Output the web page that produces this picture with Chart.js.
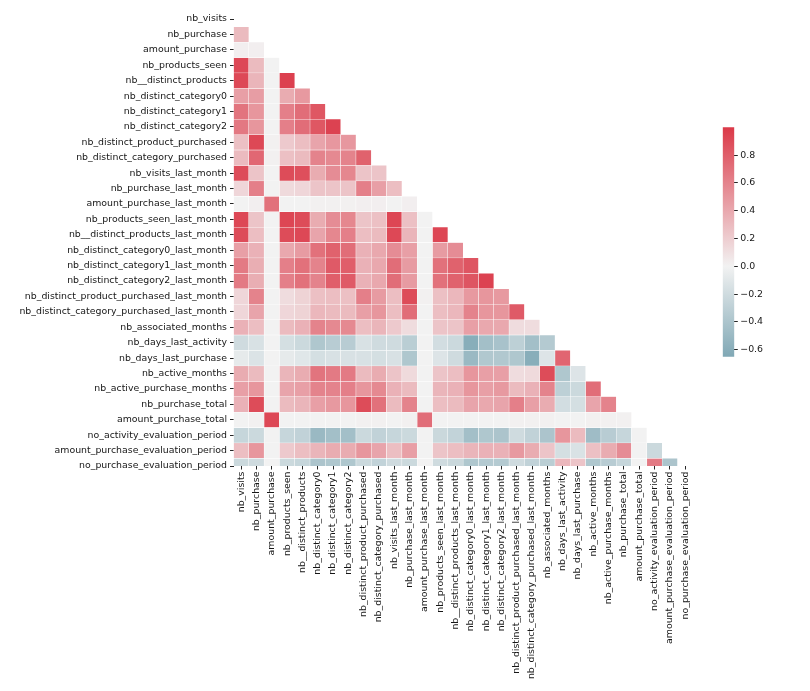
<!DOCTYPE html>
<html><head><meta charset="utf-8">
<script src="https://cdn.jsdelivr.net/npm/chart.js@4/dist/chart.umd.min.js"></script>
<style>html,body{margin:0;padding:0;background:#fff;}#wrap{position:relative;width:810px;height:691px;}canvas{position:absolute;left:0;top:0;}</style>
</head><body><div id="wrap"><canvas id="heat" width="810" height="691"></canvas><canvas id="cbar" width="810" height="691"></canvas></div>
<script>
// ---------- data ----------
const variables = [
  "nb_visits","nb_purchase","amount_purchase","nb_products_seen","nb__distinct_products",
  "nb_distinct_category0","nb_distinct_category1","nb_distinct_category2",
  "nb_distinct_product_purchased","nb_distinct_category_purchased",
  "nb_visits_last_month","nb_purchase_last_month","amount_purchase_last_month",
  "nb_products_seen_last_month","nb__distinct_products_last_month",
  "nb_distinct_category0_last_month","nb_distinct_category1_last_month","nb_distinct_category2_last_month",
  "nb_distinct_product_purchased_last_month","nb_distinct_category_purchased_last_month",
  "nb_associated_months","nb_days_last_activity","nb_days_last_purchase",
  "nb_active_months","nb_active_purchase_months","nb_purchase_total","amount_purchase_total",
  "no_activity_evaluation_period","amount_purchase_evaluation_period","no_purchase_evaluation_period"
];
// lower triangle of the correlation matrix (row i holds columns 0..i-1)
const corr = [
  [],
  [0.30],
  [0.02,0.02],
  [0.92,0.30,0.00],
  [0.92,0.33,0.00,0.96],
  [0.45,0.46,0.00,0.38,0.48],
  [0.68,0.50,0.00,0.62,0.72,0.84],
  [0.66,0.50,0.00,0.62,0.72,0.84,0.95],
  [0.27,0.92,0.01,0.22,0.28,0.42,0.49,0.49],
  [0.30,0.75,0.01,0.27,0.30,0.60,0.57,0.60,0.78],
  [0.90,0.25,0.00,0.90,0.88,0.38,0.55,0.58,0.25,0.25],
  [0.15,0.62,0.00,0.13,0.15,0.25,0.25,0.25,0.62,0.45,0.28],
  [0.00,0.02,0.70,0.00,0.00,0.01,0.01,0.01,0.02,0.02,0.00,0.02],
  [0.92,0.25,0.00,0.93,0.90,0.38,0.55,0.58,0.25,0.27,0.93,0.27,0.00],
  [0.90,0.28,0.00,0.90,0.92,0.42,0.58,0.62,0.28,0.30,0.92,0.33,0.00,0.93],
  [0.45,0.35,0.00,0.40,0.47,0.70,0.78,0.72,0.35,0.40,0.55,0.45,0.00,0.47,0.55],
  [0.65,0.37,0.00,0.62,0.70,0.60,0.82,0.80,0.35,0.40,0.72,0.47,0.00,0.70,0.78,0.85],
  [0.65,0.37,0.00,0.62,0.70,0.60,0.80,0.82,0.35,0.40,0.72,0.47,0.00,0.70,0.78,0.85,0.95],
  [0.15,0.60,0.00,0.12,0.17,0.27,0.28,0.27,0.62,0.47,0.28,0.90,0.01,0.27,0.32,0.48,0.50,0.48],
  [0.15,0.42,0.00,0.15,0.17,0.32,0.30,0.30,0.45,0.50,0.28,0.72,0.00,0.28,0.32,0.60,0.50,0.50,0.82],
  [0.35,0.28,0.00,0.30,0.35,0.60,0.57,0.57,0.28,0.33,0.22,0.12,0.00,0.25,0.25,0.45,0.40,0.40,0.12,0.12],
  [-0.20,-0.15,0.00,-0.17,-0.22,-0.38,-0.33,-0.33,-0.15,-0.20,-0.20,-0.32,0.00,-0.18,-0.22,-0.60,-0.45,-0.42,-0.30,-0.45,-0.35],
  [-0.07,-0.13,0.00,-0.07,-0.10,-0.17,-0.15,-0.15,-0.15,-0.17,-0.15,-0.38,0.00,-0.12,-0.20,-0.50,-0.37,-0.37,-0.38,-0.60,-0.12,0.76],
  [0.38,0.30,0.00,0.33,0.38,0.68,0.65,0.65,0.30,0.38,0.25,0.13,0.00,0.25,0.28,0.50,0.45,0.45,0.12,0.13,0.90,-0.38,-0.12],
  [0.45,0.50,0.00,0.42,0.45,0.60,0.60,0.62,0.50,0.57,0.35,0.30,0.00,0.33,0.35,0.50,0.45,0.48,0.30,0.35,0.60,-0.30,-0.22,0.72],
  [0.35,0.90,0.00,0.30,0.33,0.45,0.48,0.50,0.90,0.70,0.30,0.60,0.00,0.28,0.30,0.42,0.40,0.42,0.62,0.45,0.38,-0.18,-0.17,0.42,0.60],
  [0.00,0.01,0.92,0.00,0.00,0.00,0.00,0.00,0.01,0.01,0.00,0.01,0.72,0.00,0.00,0.00,0.00,0.00,0.01,0.01,0.01,0.00,0.00,0.01,0.01,0.01],
  [-0.25,-0.22,0.00,-0.25,-0.28,-0.50,-0.45,-0.45,-0.22,-0.28,-0.25,-0.22,0.00,-0.23,-0.27,-0.45,-0.38,-0.40,-0.20,-0.28,-0.40,0.50,0.30,-0.47,-0.33,-0.25,0.00],
  [0.28,0.50,0.00,0.22,0.28,0.33,0.38,0.38,0.50,0.42,0.28,0.45,0.00,0.25,0.28,0.33,0.35,0.35,0.48,0.38,0.25,-0.17,-0.14,0.27,0.38,0.55,0.00,-0.22],
  [-0.22,-0.20,0.00,-0.22,-0.25,-0.40,-0.38,-0.38,-0.22,-0.27,-0.20,-0.22,0.00,-0.20,-0.23,-0.38,-0.35,-0.35,-0.20,-0.28,-0.32,0.32,0.25,-0.38,-0.33,-0.25,0.00,0.65,-0.40]
];
const colorbarTicks = [-0.6,-0.4,-0.2,0.0,0.2,0.4,0.6,0.8];
const colorMin = -0.65, colorMax = 1.0;

// ---------- colours (diverging 220 -> 10) ----------
const MID = [242,242,242], POS = [219,57,72], NEG = [66,128,148];
function colorFor(v){
  const t = Math.min(1, Math.abs(v));
  const end = v >= 0 ? POS : NEG;
  const c = MID.map((m,k)=>Math.round(m + t*(end[k]-m)));
  return `rgb(${c[0]},${c[1]},${c[2]})`;
}

Chart.defaults.font.family = "'DejaVu Sans', sans-serif";
Chart.defaults.font.size = 9.4;
Chart.defaults.color = '#161616';

// ---------- heatmap ----------
const datasets = corr.map((row, i) => ({
  label: variables[i],
  data: variables.map((_, j) => j < i ? [i - 0.5, i + 0.5] : null),
  backgroundColor: (ctx) => colorFor(row[ctx.dataIndex] ?? 0),
  borderColor: '#ffffff',
  borderWidth: 0.5,
  borderSkipped: false,
  grouped: false,
  barPercentage: 1,
  categoryPercentage: 1,
  clip: 0
}));

new Chart(document.getElementById('heat'), {
  type: 'bar',
  data: { labels: variables, datasets },
  options: {
    responsive: false, animation: false, devicePixelRatio: 1,
    layout: { padding: { left: 0, top: 19, right: 117.2, bottom: 0 } },
    plugins: { legend: { display: false }, tooltip: { enabled: false } },
    scales: {
      x: {
        type: 'category',
        offset: true,
        grid: { display: true, drawOnChartArea: false, drawTicks: true, tickLength: 3.5, offset: false, color: '#262626', lineWidth: 1 },
        border: { display: false },
        ticks: { autoSkip: false, minRotation: 90, maxRotation: 90, padding: 2 },
        afterFit: (s) => { s.height = 225; }
      },
      y: {
        type: 'linear',
        reverse: true,
        min: 0, max: variables.length - 1,
        grid: { display: true, drawOnChartArea: false, drawTicks: true, tickLength: 3.5, color: '#262626', lineWidth: 1 },
        border: { display: false },
        ticks: { stepSize: 1, autoSkip: false, padding: 3, callback: (v) => variables[Math.round(v)] },
        afterFit: (s) => { s.width = 233.5; }
      }
    }
  }
});

// ---------- colour bar ----------
new Chart(document.getElementById('cbar'), {
  type: 'bar',
  data: { labels: [''], datasets: [{
    data: [[colorMin, colorMax]],
    barPercentage: 1, categoryPercentage: 1, borderWidth: 0,
    backgroundColor: (ctx) => {
      const chart = ctx.chart;
      if (!chart.chartArea) return colorFor(0);
      const ys = chart.scales.y;
      const top = ys.getPixelForValue(colorMax), bot = ys.getPixelForValue(colorMin), zero = ys.getPixelForValue(0);
      const g = chart.ctx.createLinearGradient(0, top, 0, bot);
      g.addColorStop(0, colorFor(colorMax));
      g.addColorStop((zero - top) / (bot - top), colorFor(0));
      g.addColorStop(1, colorFor(colorMin));
      return g;
    }
  }]},
  options: {
    responsive: false, animation: false, devicePixelRatio: 1,
    layout: { padding: { left: 722.7, top: 127.3, right: 35.7, bottom: 334.3 } },
    plugins: { legend: { display: false }, tooltip: { enabled: false } },
    scales: {
      x: { display: false },
      y: {
        type: 'linear', position: 'right', min: colorMin, max: colorMax,
        grid: { display: true, drawOnChartArea: false, drawTicks: true, tickLength: 3.5, color: '#262626', lineWidth: 1 },
        border: { display: false },
        afterBuildTicks: (s) => { s.ticks = colorbarTicks.map(v => ({ value: v })); },
        ticks: { padding: 2.5, callback: (v) => v.toFixed(1).replace('-', '\u2212') },
        afterFit: (s) => { s.width = 40; }
      }
    }
  }
});
</script></body></html>
